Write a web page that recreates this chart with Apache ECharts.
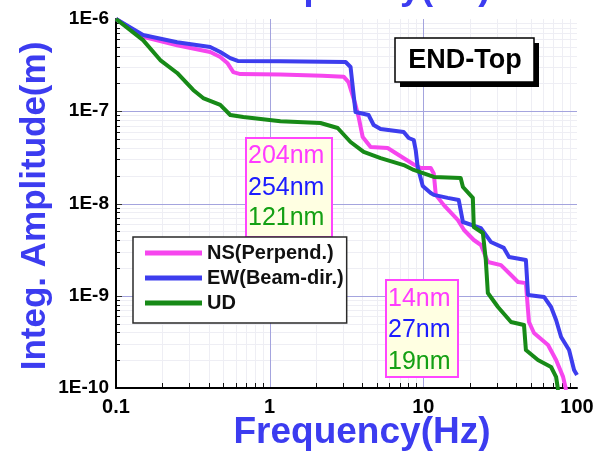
<!DOCTYPE html>
<html>
<head>
<meta charset="utf-8">
<script src="https://cdn.jsdelivr.net/npm/echarts@6/dist/echarts.min.js"></script>
<style>
  html, body { margin: 0; padding: 0; background: #fff; }
  #chart { width: 597px; height: 460px; }
</style>
</head>
<body>
<div id="chart"></div>
<script>
// Integrated amplitude spectra, END station top floor
const xTickLabels = ['0.1', '1', '10', '100'];
const yTickLabels = ['1E-10', '1E-9', '1E-8', '1E-7', '1E-6'];
const xDecades = [0.1, 1, 10, 100];
const yDecades = [1e-10, 1e-9, 1e-8, 1e-7, 1e-6];
const minorSteps = [2, 3, 4, 5, 6, 7, 8, 9];

const seriesNames = ['NS(Perpend.)', 'EW(Beam-dir.)', 'UD'];

const freqNS = [0.1, 0.15, 0.25, 0.41, 0.477, 0.53, 0.58, 0.644, 1.175, 2.2, 3.03, 3.26, 3.62, 3.79, 4.03, 4.54, 5.86, 6.91, 8.66, 9.62, 11.17, 11.7, 12.05, 13.6, 16.8, 18.4, 21.3, 23.7, 26.3, 32.0, 37.2, 41.3, 46.5, 48.0, 48.7, 52.5, 64.8, 73.1, 81.2, 84.9];
const ampNS  = [1e-6, 6.4e-7, 5.2e-7, 4.39e-7, 3.87e-7, 3.34e-7, 2.66e-7, 2.53e-7, 2.5e-7, 2.43e-7, 2.37e-7, 2.07e-7, 1.17e-7, 8.67e-8, 5.26e-8, 4.1e-8, 4.0e-8, 3.36e-8, 2.65e-8, 2.43e-8, 2.43e-8, 2.1e-8, 1.24e-8, 9.6e-9, 6.6e-9, 5.16e-9, 4.02e-9, 3.55e-9, 2.32e-9, 2.15e-9, 1.68e-9, 1.41e-9, 1.37e-9, 7.0e-10, 5.19e-10, 3.95e-10, 2.92e-10, 2.01e-10, 1.32e-10, 0.95e-10];

const freqEW = [0.1, 0.15, 0.25, 0.41, 0.477, 0.554, 0.62, 1.175, 3.12, 3.36, 3.62, 4.4, 4.75, 5.27, 7.45, 8.03, 8.66, 8.92, 9.19, 9.91, 11.17, 11.7, 14.4, 17.0, 18.1, 23.7, 27.5, 33.4, 36.1, 46.5, 48.0, 61.0, 67.8, 73.1, 78.8, 88.8, 95.7, 100];
const ampEW  = [1e-6, 6.7e-7, 5.6e-7, 4.97e-7, 4.39e-7, 3.77e-7, 3.51e-7, 3.48e-7, 3.42e-7, 3.02e-7, 9.8e-8, 9.1e-8, 7.1e-8, 6.42e-8, 5.96e-8, 5.13e-8, 4.88e-8, 3.8e-8, 2.49e-8, 1.55e-8, 1.3e-8, 1.24e-8, 1.15e-8, 1.09e-8, 6.3e-9, 5.42e-9, 3.83e-9, 3.3e-9, 2.63e-9, 2.44e-9, 1.02e-9, 9.7e-10, 7.55e-10, 5.46e-10, 3.57e-10, 2.58e-10, 1.57e-10, 1.38e-10];

const freqUD = [0.1, 0.15, 0.194, 0.25, 0.318, 0.369, 0.477, 0.554, 0.674, 1.175, 2.14, 2.77, 3.36, 4.09, 5.27, 7.45, 8.66, 11.7, 17.5, 18.1, 21.0, 21.3, 24.4, 25.5, 26.3, 30.6, 37.2, 45.2, 46.5, 55.7, 67.8, 73.1, 75.3];
const ampUD  = [1e-6, 5.9e-7, 3.59e-7, 2.6e-7, 1.7e-7, 1.39e-7, 1.17e-7, 9.1e-8, 8.67e-8, 7.8e-8, 7.46e-8, 6.58e-8, 4.64e-8, 3.62e-8, 3.11e-8, 2.61e-8, 2.31e-8, 1.94e-8, 1.89e-8, 1.51e-8, 1.15e-8, 5.56e-9, 4.79e-9, 2.44e-9, 1.07e-9, 7.55e-10, 5.19e-10, 4.82e-10, 2.58e-10, 2.01e-10, 1.69e-10, 1.32e-10, 0.95e-10];

// rms values shown in the two note boxes (NS, EW, UD)
const rmsFromOneHz = ['204nm', '254nm', '121nm'];
const rmsFromTenHz = ['14nm', '27nm', '19nm'];

const lineColors = ['#f646ee', '#3d3dee', '#178a17'];
const textColors = ['#ff3cff', '#1c1cff', '#14a014'];
const FONT = '"Liberation Sans", Arial, sans-serif';
const AXIS_NAME_COLOR = '#3c3cf0';

const pairs = (xs, ys) => xs.map((x, i) => [x, ys[i]]);

const chart = echarts.init(document.getElementById('chart'), null, { renderer: 'canvas' });

function gridRender(params, api) {
  const xMin = xDecades[0], xMax = xDecades[xDecades.length - 1];
  const yMin = yDecades[0], yMax = yDecades[yDecades.length - 1];
  const bl = api.coord([xMin, yMin]);
  const tr = api.coord([xMax, yMax]);
  const children = [];
  const line = (x1, y1, x2, y2, stroke, w) => children.push({
    type: 'line', shape: { x1, y1, x2, y2 }, style: { stroke, lineWidth: w }
  });
  // minor grid + inner minor ticks
  for (let d = 0; d < xDecades.length - 1; d++) {
    minorSteps.forEach(m => {
      const px = Math.round(api.coord([xDecades[d] * m, yMin])[0]) + 0.5;
      line(px, bl[1], px, tr[1], '#eeeef4', 1);
      line(px, bl[1], px, bl[1] - 5, '#111', 1);
    });
  }
  for (let d = 0; d < yDecades.length - 1; d++) {
    minorSteps.forEach(m => {
      const py = Math.round(api.coord([xMin, yDecades[d] * m])[1]) + 0.5;
      line(bl[0], py, tr[0], py, '#eeeef4', 1);
      line(bl[0], py, bl[0] + 4, py, '#111', 1);
    });
  }
  // decade grid lines inside the plot
  xDecades.slice(1, -1).forEach(v => {
    const px = Math.round(api.coord([v, yMin])[0]) + 0.5;
    line(px, bl[1], px, tr[1], '#a4a4de', 1);
  });
  yDecades.slice(1, -1).forEach(v => {
    const py = Math.round(api.coord([xMin, v])[1]) + 0.5;
    line(bl[0], py, tr[0], py, '#a4a4de', 1);
    line(bl[0], py, bl[0] + 6, py, '#333', 1);
  });
  return { type: 'group', children };
}

function noteBox(x, y, w, h, labels, lineYs) {
  const children = [{
    type: 'rect',
    shape: { x: 0, y: 0, width: w, height: h },
    style: { fill: '#ffffe2', stroke: '#ff46ff', lineWidth: 2 }
  }];
  labels.forEach((t, i) => children.push({
    type: 'text',
    style: {
      text: t, x: 2, y: lineYs[i], fill: textColors[i],
      font: '25px ' + FONT, align: 'left', verticalAlign: 'middle'
    }
  }));
  return { type: 'group', x, y, z: 20, children };
}

const option = {
  animation: false,
  backgroundColor: '#ffffff',
  grid: { left: 116, right: 20, top: 19, bottom: 72, containLabel: false },
  xAxis: {
    type: 'log', logBase: 10, min: 0.1, max: 100,
    axisLine: { onZero: false, lineStyle: { color: '#000', width: 2 } },
    axisTick: { show: false },
    splitLine: { show: false },
    axisLabel: {
      color: '#000', fontFamily: FONT, fontSize: 20, fontWeight: 'bold', margin: 9,
      formatter: v => xTickLabels[Math.round(Math.log10(v)) + 1]
    }
  },
  yAxis: {
    type: 'log', logBase: 10, min: 1e-10, max: 1e-6,
    axisLine: { onZero: false, lineStyle: { color: '#000', width: 2 } },
    axisTick: { show: false },
    splitLine: { show: false },
    axisLabel: {
      color: '#000', fontFamily: FONT, fontSize: 19, fontWeight: 'bold', margin: 7,
      formatter: v => yTickLabels[Math.round(Math.log10(v)) + 10]
    }
  },
  legend: {
    left: 133, top: 237, orient: 'vertical',
    backgroundColor: '#fff', borderColor: '#2a2a2a', borderWidth: 1.5,
    padding: [6, 3, 10, 12],
    itemWidth: 57, itemHeight: 5, itemGap: 5,
    textStyle: { color: '#111', fontFamily: FONT, fontSize: 20, fontWeight: 'bold', lineHeight: 20 },
    data: seriesNames.map(n => ({ name: n, icon: 'rect' })),
    z: 20
  },
  series: [
    { type: 'custom', coordinateSystem: 'cartesian2d', silent: true, z: -1,
      data: [[1, 1e-8]], renderItem: gridRender },
    { name: seriesNames[0], type: 'line', data: pairs(freqNS, ampNS), showSymbol: false, clip: true,
      lineStyle: { color: lineColors[0], width: 4, join: 'round' }, itemStyle: { color: lineColors[0] } },
    { name: seriesNames[1], type: 'line', data: pairs(freqEW, ampEW), showSymbol: false, clip: true,
      lineStyle: { color: lineColors[1], width: 4, join: 'round' }, itemStyle: { color: lineColors[1] } },
    { name: seriesNames[2], type: 'line', data: pairs(freqUD, ampUD), showSymbol: false, clip: true,
      lineStyle: { color: lineColors[2], width: 4, join: 'round' }, itemStyle: { color: lineColors[2] } }
  ],
  graphic: [
    // axis titles
    { type: 'text', z: 10, style: { text: 'Frequency(Hz)', x: 362, y: 433, fill: AXIS_NAME_COLOR,
      font: 'bold 37px ' + FONT, align: 'center', verticalAlign: 'middle' } },
    { type: 'text', z: 10, style: { text: 'Frequency(Hz)', x: 362, y: -11, fill: AXIS_NAME_COLOR,
      font: 'bold 37px ' + FONT, align: 'center', verticalAlign: 'middle' } },
    { type: 'text', z: 10, x: 35, y: 206, rotation: Math.PI / 2,
      style: { text: 'Integ. Amplitude(m)', x: 0, y: 0, fill: AXIS_NAME_COLOR,
        font: 'bold 35px ' + FONT, align: 'center', verticalAlign: 'middle' } },
    // station tag with drop shadow
    { type: 'group', x: 395, y: 38, z: 20, children: [
      { type: 'rect', shape: { x: 5, y: 5, width: 139, height: 44 }, style: { fill: '#000' } },
      { type: 'rect', shape: { x: 0, y: 0, width: 139, height: 44 }, style: { fill: '#fff', stroke: '#000', lineWidth: 1.5 } },
      { type: 'text', style: { text: 'END-Top', x: 70, y: 23, fill: '#000',
        font: 'bold 27px ' + FONT, align: 'center', verticalAlign: 'middle' } }
    ] },
    noteBox(246, 138, 86, 99, rmsFromOneHz, [18, 50, 80]),
    noteBox(386, 280, 72, 97, rmsFromTenHz, [19, 50, 82])
  ]
};

chart.setOption(option);
</script>
</body>
</html>
